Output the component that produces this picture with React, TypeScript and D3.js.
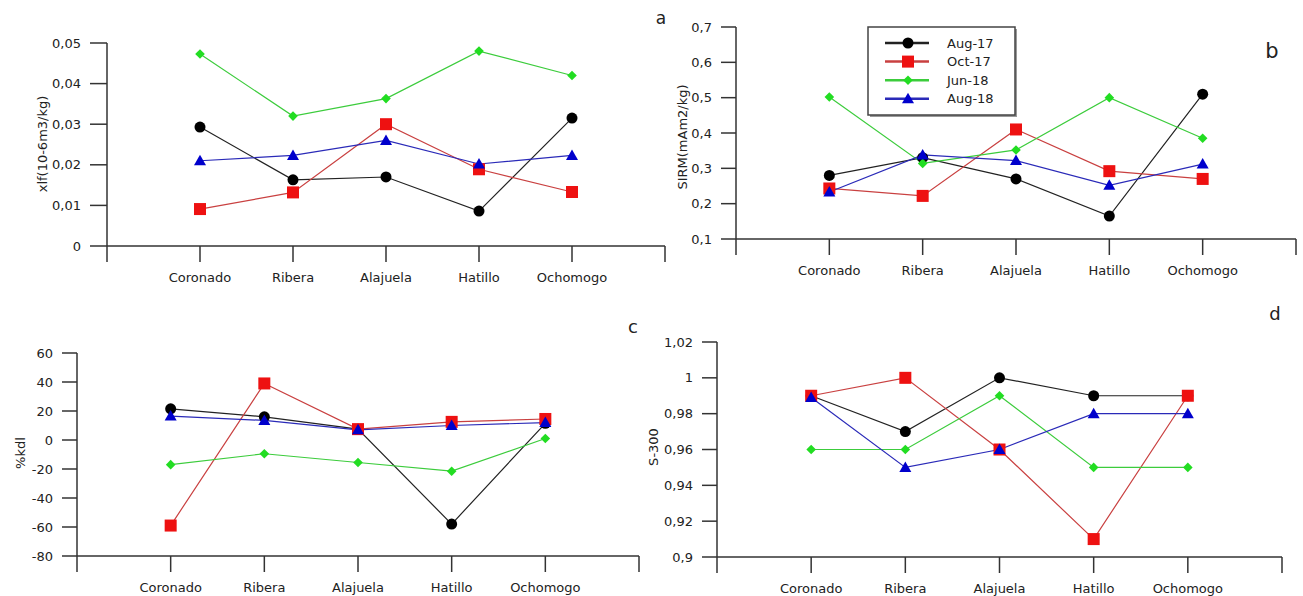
import React from "react";
import * as d3 from "d3";

const categories = ["Coronado", "Ribera", "Alajuela", "Hatillo", "Ochomogo"];
const seriesNames = ["Aug-17", "Oct-17", "Jun-18", "Aug-18"];

// Panel a: xlf
const xlfAug17 = [0.0293, 0.0163, 0.017, 0.0086, 0.0315];
const xlfOct17 = [0.0091, 0.0132, 0.03, 0.0189, 0.0133];
const xlfJun18 = [0.0473, 0.032, 0.0363, 0.048, 0.042];
const xlfAug18 = [0.021, 0.0223, 0.026, 0.0202, 0.0223];
const xlfTicks = [0, 0.01, 0.02, 0.03, 0.04, 0.05];

// Panel b: SIRM
const sirmAug17 = [0.28, 0.33, 0.27, 0.165, 0.51];
const sirmOct17 = [0.243, 0.222, 0.41, 0.292, 0.27];
const sirmJun18 = [0.502, 0.314, 0.352, 0.5, 0.385];
const sirmAug18 = [0.233, 0.338, 0.322, 0.252, 0.312];
const sirmTicks = [0.1, 0.2, 0.3, 0.4, 0.5, 0.6, 0.7];

// Panel c: %kdl
const kdlAug17 = [21.5, 16, 7.5, -58, 11.5];
const kdlOct17 = [-59, 39, 7.5, 12.5, 14.5];
const kdlJun18 = [-17, -9.5, -15.5, -21.5, 1];
const kdlAug18 = [16.5, 13.5, 7, 10, 12];
const kdlTicks = [-80, -60, -40, -20, 0, 20, 40, 60];

// Panel d: S-300
const sAug17 = [0.99, 0.97, 1.0, 0.99, 0.99];
const sOct17 = [0.99, 1.0, 0.96, 0.91, 0.99];
const sJun18 = [0.96, 0.96, 0.99, 0.95, 0.95];
const sAug18 = [0.989, 0.95, 0.96, 0.98, 0.98];
const sTicks = [0.9, 0.92, 0.94, 0.96, 0.98, 1.0, 1.02];

const lineColors = ["#222222", "#c94040", "#3ccc3c", "#2a2ab8"];
const markerColors = ["#000000", "#ee1111", "#22dd22", "#0000cc"];
const FONT = "'DejaVu Sans', Verdana, sans-serif";

const fmt = (v: number) => String(+v.toFixed(3)).replace(".", ",");

type Panel = {
  series: number[][];
  ticks: number[];
  ylabel: string;
  tag: string;
  tagSize: number;
  x0: number;
  x1: number;
  yTop: number;
  yBot: number;
  tickLen: number;
  ylabelPos: [number, number];
  tagPos: [number, number];
};

const panels: Panel[] = [
  {
    series: [xlfAug17, xlfOct17, xlfJun18, xlfAug18],
    ticks: xlfTicks,
    ylabel: "xlf(10-6m3/kg)",
    tag: "a",
    tagSize: 17,
    x0: 107, x1: 665, yTop: 43, yBot: 246, tickLen: 17,
    ylabelPos: [42, 144],
    tagPos: [661, 18],
  },
  {
    series: [sirmAug17, sirmOct17, sirmJun18, sirmAug18],
    ticks: sirmTicks,
    ylabel: "SIRM(mAm2/kg)",
    tag: "b",
    tagSize: 21,
    x0: 736, x1: 1296, yTop: 27, yBot: 239, tickLen: 15,
    ylabelPos: [682, 137],
    tagPos: [1272, 51],
  },
  {
    series: [kdlAug17, kdlOct17, kdlJun18, kdlAug18],
    ticks: kdlTicks,
    ylabel: "%kdl",
    tag: "c",
    tagSize: 18,
    x0: 77, x1: 639, yTop: 353, yBot: 556, tickLen: 15,
    ylabelPos: [20, 453],
    tagPos: [633, 327],
  },
  {
    series: [sAug17, sOct17, sJun18, sAug18],
    ticks: sTicks,
    ylabel: "S-300",
    tag: "d",
    tagSize: 18,
    x0: 717, x1: 1282, yTop: 342, yBot: 557, tickLen: 15,
    ylabelPos: [653, 447],
    tagPos: [1275, 314],
  },
];

function Marker({ kind, x, y }: { kind: number; x: number; y: number }) {
  const c = markerColors[kind];
  if (kind === 0) return <circle cx={x} cy={y} r={5.5} fill={c} />;
  if (kind === 1) return <rect x={x - 6} y={y - 6} width={12} height={12} fill={c} />;
  if (kind === 2) {
    const s = 4.8;
    return <path d={`M${x},${y - s}L${x + s},${y}L${x},${y + s}L${x - s},${y}Z`} fill={c} />;
  }
  return <path d={`M${x},${y - 6}L${x + 6},${y + 4.5}L${x - 6},${y + 4.5}Z`} fill={c} />;
}

function PanelView({ p }: { p: Panel }) {
  const x = d3.scaleLinear().domain([0, 6]).range([p.x0, p.x1]);
  const y = d3
    .scaleLinear()
    .domain([p.ticks[0], p.ticks[p.ticks.length - 1]])
    .range([p.yBot, p.yTop]);
  const line = d3
    .line<number>()
    .x((_, i) => x(i + 1))
    .y((v) => y(v));
  const axisColor = "#333";
  return (
    <g>
      <line x1={p.x0} x2={p.x0} y1={p.yTop} y2={p.yBot} stroke={axisColor} strokeWidth={1.5} />
      {p.ticks.map((t, i) => (
        <g key={i}>
          <line x1={p.x0 - p.tickLen} x2={p.x0} y1={y(t)} y2={y(t)} stroke={axisColor} strokeWidth={1.5} />
          <text
            x={p.x0 - p.tickLen - 9}
            y={y(t)}
            dy="0.35em"
            textAnchor="end"
            fontSize={13}
            fontFamily={FONT}
            fill="#222"
          >
            {fmt(t)}
          </text>
        </g>
      ))}
      <line x1={p.x0} x2={p.x1} y1={p.yBot} y2={p.yBot} stroke={axisColor} strokeWidth={1.5} />
      {d3.range(0, 7).map((i) => (
        <line key={i} x1={x(i)} x2={x(i)} y1={p.yBot} y2={p.yBot + 16} stroke={axisColor} strokeWidth={1.5} />
      ))}
      {categories.map((c, i) => (
        <text
          key={c}
          x={x(i + 1)}
          y={p.yBot + 36}
          textAnchor="middle"
          fontSize={13}
          fontFamily={FONT}
          fill="#222"
        >
          {c}
        </text>
      ))}
      <text
        transform={`translate(${p.ylabelPos[0]},${p.ylabelPos[1]}) rotate(-90)`}
        textAnchor="middle"
        dy="0.35em"
        fontSize={13}
        fontFamily={FONT}
        fill="#222"
      >
        {p.ylabel}
      </text>
      <text
        x={p.tagPos[0]}
        y={p.tagPos[1]}
        dy="0.35em"
        textAnchor="middle"
        fontSize={p.tagSize}
        fontFamily={FONT}
        fill="#222"
      >
        {p.tag}
      </text>
      {p.series.map((s, k) => (
        <path key={k} d={line(s) || ""} fill="none" stroke={lineColors[k]} strokeWidth={1.2} />
      ))}
      {p.series.map((s, k) => (
        <g key={k}>
          {s.map((v, i) => (
            <Marker key={i} kind={k} x={x(i + 1)} y={y(v)} />
          ))}
        </g>
      ))}
    </g>
  );
}

function Legend() {
  const lx = 868, ly = 27, w = 147, h = 88;
  return (
    <g>
      <rect x={lx + 2} y={ly + 2} width={w} height={h} fill="#999" />
      <rect x={lx} y={ly} width={w} height={h} fill="#fff" stroke="#444" strokeWidth={1.5} />
      {seriesNames.map((n, k) => {
        const cy = ly + 16 + k * 18.6;
        return (
          <g key={n}>
            <line x1={lx + 17} x2={lx + 61} y1={cy} y2={cy} stroke={lineColors[k]} strokeWidth={2.5} />
            <Marker kind={k} x={lx + 40} y={cy} />
            <text x={lx + 79} y={cy} dy="0.35em" fontSize={13} fontFamily={FONT} fill="#222">
              {n}
            </text>
          </g>
        );
      })}
    </g>
  );
}

export default function App() {
  return (
    <svg
      width={1303}
      height={596}
      style={{ position: "absolute", left: 0, top: 0, background: "#fff" }}
    >
      {panels.map((p, i) => (
        <PanelView key={i} p={p} />
      ))}
      <Legend />
    </svg>
  );
}
